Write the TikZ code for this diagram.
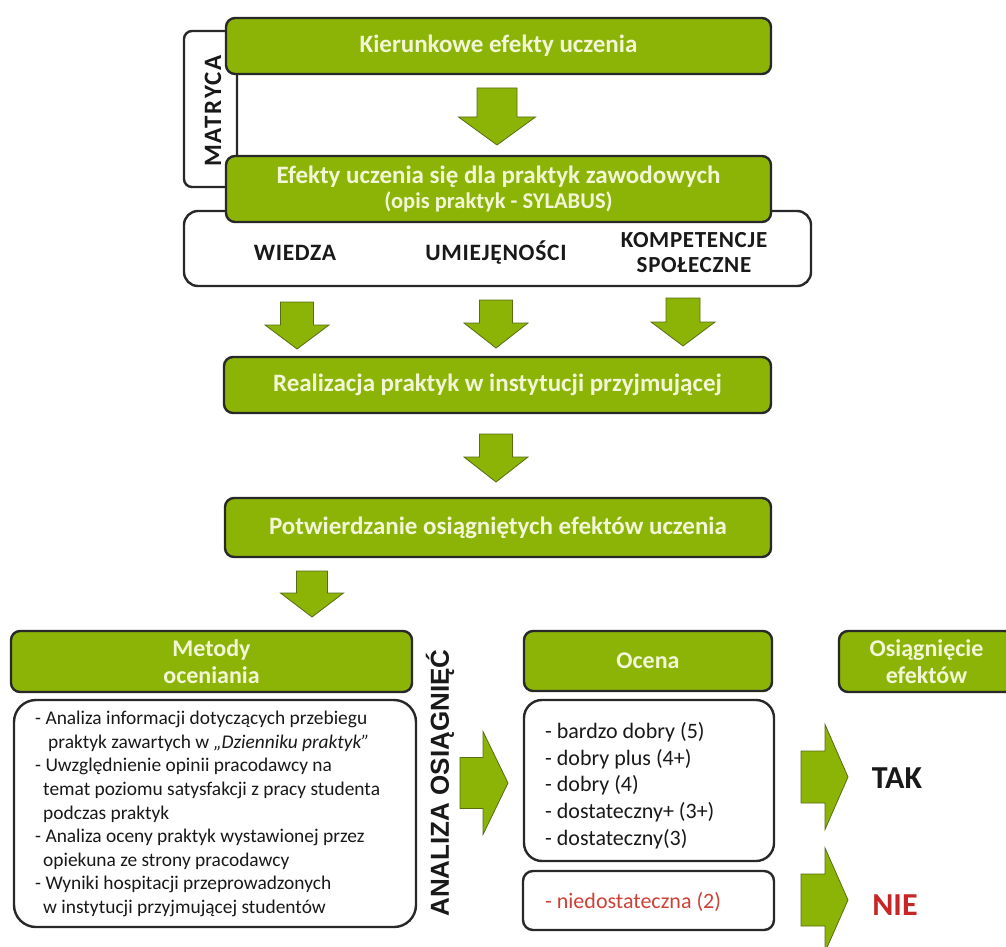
\documentclass[tikz,border=0pt]{standalone}
\usepackage{fontspec}
\setmainfont{Carlito}
\newfontfamily\arialf{Liberation Sans}
\usetikzlibrary{calc}
\definecolor{grn}{RGB}{139,180,6}
\definecolor{grnd}{RGB}{88,108,20}
\definecolor{pale}{RGB}{243,246,214}
\definecolor{bord}{RGB}{40,40,40}
\definecolor{txt}{RGB}{25,25,25}
\definecolor{redt}{RGB}{200,38,38}
\definecolor{redl}{RGB}{205,65,55}
\tikzset{
  gbox/.style={draw=bord, line width=2.4pt, fill=grn, rounded corners=9pt, text=pale,
    font=\bfseries\fontsize{25}{28}\selectfont, align=center, inner sep=0pt},
  wbox/.style={draw=bord, line width=2.4pt, fill=white, rounded corners=14pt, inner sep=0pt},
  barrow/.style={fill=grn, draw=grnd, line width=0.8pt, line join=miter},
  cat/.style={text=txt, font=\bfseries\fontsize{23.5}{26}\selectfont\addfontfeatures{LetterSpace=3}, align=center, inner sep=0pt},
  body/.style={text=txt, align=left, inner sep=0pt},
}
% #1 top coordinate, #2 tip coordinate, #3 shaft half width, #4 head half width, #5 head length
\newcommand\downarr[5]{\path[barrow] let \p1=(#1), \p2=(#2) in
  (\x1-#3,\y1) -- (\x1+#3,\y1) -- (\x1+#3,\y2+#5) -- (\x1+#4,\y2+#5) -- (\x2,\y2)
  -- (\x1-#4,\y2+#5) -- (\x1-#3,\y2+#5) -- cycle;}
% #1 tail coordinate, #2 tip coordinate, #3 shaft half height, #4 head half height, #5 head length
\newcommand\rightarr[5]{\path[barrow] let \p1=(#1), \p2=(#2) in
  (\x1,\y1+#3) -- (\x2-#5,\y1+#3) -- (\x2-#5,\y2+#4) -- (\x2,\y2)
  -- (\x2-#5,\y2-#4) -- (\x2-#5,\y1-#3) -- (\x1,\y1-#3) -- cycle;}
\begin{document}
\begin{tikzpicture}[x=1pt,y=-1pt]
\useasboundingbox[fill=white] (0,0) rectangle (1006,947);

% bracket MATRYCA
\node[wbox, rounded corners=8pt, minimum width=53pt, minimum height=156pt] (bracket) at (210.5,109) {};
\node[cat, rotate=90, font=\bfseries\fontsize{25}{28}\selectfont\addfontfeatures{LetterSpace=7}] (matryca) at (213,111) {MATRYCA};

% row of categories
\node[wbox, minimum width=627pt, minimum height=75pt] (row) at (497.5,248.5) {};
\node[cat] (wiedza) at (295,253) {WIEDZA};
\node[cat] (umiej) at (496,253) {UMIEJĘNOŚCI};
\node[cat, font=\bfseries\fontsize{23}{25}\selectfont\addfontfeatures{LetterSpace=3}] (kompet) at (694,253) {KOMPETENCJE\\SPOŁECZNE};

% main boxes
\node[gbox, minimum width=545pt, minimum height=56pt] (box1) at (498.5,46) {Kierunkowe efekty uczenia};
\node[gbox, minimum width=545pt, minimum height=66pt] (box2) at (498.5,189)
  {Efekty uczenia się dla praktyk zawodowych\\[-3pt]{\fontsize{22.5}{25}\selectfont (opis praktyk - SYLABUS)}};
\node[gbox, minimum width=547pt, minimum height=56pt] (box3) at (497.5,385) {Realizacja praktyk w instytucji przyjmującej};
\node[gbox, minimum width=546pt, minimum height=59pt] (box4) at (498,527.5) {Potwierdzanie osiągniętych efektów uczenia};

% bottom headers
\node[gbox, minimum width=401pt, minimum height=61pt, font=\bfseries\fontsize{24}{27}\selectfont] (metody) at (211.5,661.5) {Metody\\oceniania};
\node[gbox, minimum width=248pt, minimum height=60pt, font=\bfseries\fontsize{24}{27}\selectfont] (ocena) at (648,661) {Ocena};
\node[gbox, minimum width=175pt, minimum height=61pt, font=\bfseries\fontsize{24}{27}\selectfont] (osiag) at (926.5,661.5) {Osiągnięcie\\efektów};

% white content boxes
\node[wbox, rounded corners=22pt, minimum width=402pt, minimum height=227pt] (methods) at (215,813.5) {};
\node[wbox, rounded corners=18pt, minimum width=250pt, minimum height=161pt] (grades) at (649,780.5) {};
\node[wbox, rounded corners=10pt, minimum width=251pt, minimum height=59pt] (fail) at (648.5,900.5) {};

\node[body, anchor=north west, font=\fontsize{19.4}{23.6}\selectfont] (mtext) at (35,711) {%
- Analiza informacji dotyczących przebiegu\\
\hspace*{13pt}praktyk zawartych w \textit{„Dzienniku praktyk”}\\
- Uwzględnienie opinii pracodawcy na\\
\hspace*{8pt}temat poziomu satysfakcji z pracy studenta\\
\hspace*{8pt}podczas praktyk\\
- Analiza oceny praktyk wystawionej przez\\
\hspace*{8pt}opiekuna ze strony pracodawcy\\
- Wyniki hospitacji przeprowadzonych\\
\hspace*{8pt}w instytucji przyjmującej studentów};

\node[body, anchor=north west, font=\fontsize{22}{26.75}\selectfont] (gtext) at (545,722) {%
- bardzo dobry (5)\\
- dobry plus (4+)\\
- dobry (4)\\
- dostateczny+ (3+)\\
- dostateczny(3)};

\node[body, anchor=west, text=redl, font=\fontsize{22}{26}\selectfont] (ftext) at (545,902) {- niedostateczna (2)};

\node[text=txt, rotate=90, inner sep=0pt, font=\arialf\bfseries\fontsize{26}{28}\selectfont] (analiza) at (440,783) {ANALIZA OSIĄGNIĘĆ};

\node[text=txt, inner sep=0pt, font=\bfseries\fontsize{32}{36}\selectfont] (tak) at (897,778) {TAK};
\node[text=redt, inner sep=0pt, font=\bfseries\fontsize{32}{36}\selectfont] (nie) at (895,905) {NIE};

% arrow coordinates
\coordinate (a1t) at (497,88);  \coordinate (a1h) at (497,145);
\coordinate (a2t) at (297,302); \coordinate (a2h) at (297,349);
\coordinate (a3t) at (496,300); \coordinate (a3h) at (496,348);
\coordinate (a4t) at (683,298); \coordinate (a4h) at (683,346);
\coordinate (a5t) at (496,434); \coordinate (a5h) at (496,482);
\coordinate (a6t) at (312,571); \coordinate (a6h) at (312,617);
\coordinate (r1t) at (460,783); \coordinate (r1h) at (508,783);
\coordinate (r2t) at (801,777); \coordinate (r2h) at (848,777);
\coordinate (r3t) at (801,900); \coordinate (r3h) at (848,900);

\downarr{a1t}{a1h}{20pt}{38.5pt}{28pt}
\downarr{a2t}{a2h}{16.5pt}{32pt}{24pt}
\downarr{a3t}{a3h}{16.5pt}{32pt}{25pt}
\downarr{a4t}{a4h}{17pt}{32pt}{24pt}
\downarr{a5t}{a5h}{16.5pt}{32pt}{25pt}
\downarr{a6t}{a6h}{15.5pt}{31.5pt}{24pt}
\rightarr{r1t}{r1h}{25.5pt}{51.5pt}{25pt}
\rightarr{r2t}{r2h}{26pt}{52.5pt}{23pt}
\rightarr{r3t}{r3h}{26pt}{52pt}{23pt}
\end{tikzpicture}
\end{document}
